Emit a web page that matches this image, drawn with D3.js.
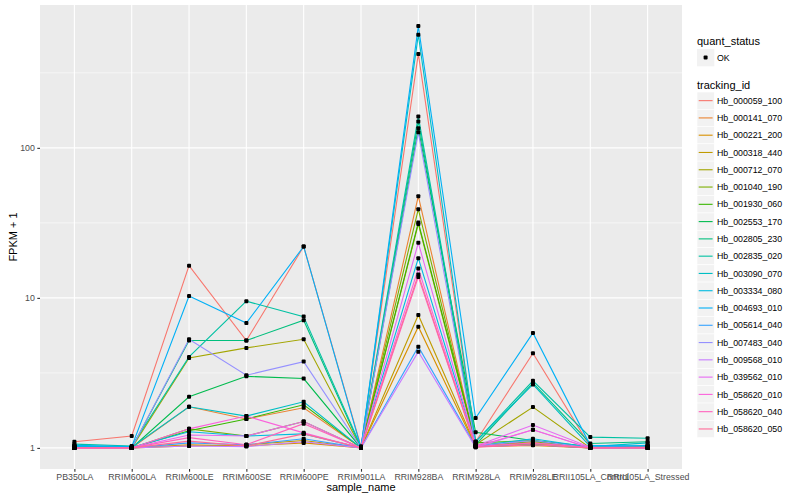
<!DOCTYPE html>
<html>
<head>
<meta charset="utf-8">
<script src="https://cdn.jsdelivr.net/npm/d3@7"></script>
<style>
  body { margin: 0; background: #fff; }
  text { font-family: "Liberation Sans", Arial, sans-serif; }
</style>
</head>
<body>
<div id="chart"></div>
<script>
const samples = ["PB350LA", "RRIM600LA", "RRIM600LE", "RRIM600SE", "RRIM600PE", "RRIM901LA",
  "RRIM928BA", "RRIM928LA", "RRIM928LE", "RRII105LA_Control", "RRII105LA_Stressed"];

const trackingIds = ["Hb_000059_100", "Hb_000141_070", "Hb_000221_200", "Hb_000318_440", "Hb_000712_070",
  "Hb_001040_190", "Hb_001930_060", "Hb_002553_170", "Hb_002805_230", "Hb_002835_020",
  "Hb_003090_070", "Hb_003334_080", "Hb_004693_010", "Hb_005614_040", "Hb_007483_040",
  "Hb_009568_010", "Hb_039562_010", "Hb_058620_010", "Hb_058620_040", "Hb_058620_050"];

// FPKM + 1, one row per tracking_id, in sample order
const fpkm = [
  [1.10, 1.20, 16.4, 5.19, 22.0, 1.02, 423, 1.10, 4.28, 1.02, 1.02],
  [1.00, 1.00, 1.88, 1.56, 1.85, 1.00, 47.6, 1.05, 1.08, 1.00, 1.00],
  [1.00, 1.00, 1.05, 1.03, 1.08, 1.00, 6.43, 1.02, 1.04, 1.00, 1.00],
  [1.00, 1.00, 1.03, 1.05, 1.12, 1.00, 7.70, 1.03, 1.06, 1.00, 1.01],
  [1.01, 1.00, 3.97, 4.64, 5.30, 1.00, 31.1, 1.05, 1.87, 1.00, 1.00],
  [1.00, 1.00, 1.34, 1.20, 1.50, 1.00, 39.0, 1.04, 1.10, 1.01, 1.01],
  [1.01, 1.00, 1.30, 1.56, 1.94, 1.00, 31.8, 1.08, 1.12, 1.01, 1.02],
  [1.02, 1.00, 2.19, 3.00, 2.90, 1.00, 135, 1.27, 1.12, 1.02, 1.02],
  [1.02, 1.00, 5.20, 5.20, 7.10, 1.00, 150, 1.05, 2.71, 1.07, 1.10],
  [1.06, 1.03, 4.04, 9.50, 7.50, 1.02, 162, 1.10, 2.80, 1.18, 1.16],
  [1.03, 1.01, 1.88, 1.63, 2.03, 1.00, 567, 1.10, 2.65, 1.02, 1.08],
  [1.02, 1.01, 1.28, 1.20, 1.24, 1.00, 18.4, 1.03, 1.15, 1.01, 1.04],
  [1.04, 1.02, 10.3, 6.80, 22.0, 1.00, 648, 1.58, 5.84, 1.04, 1.03],
  [1.00, 1.00, 1.08, 1.05, 1.15, 1.00, 4.73, 1.02, 1.05, 1.00, 1.00],
  [1.00, 1.00, 5.30, 3.05, 3.76, 1.00, 127, 1.03, 1.12, 1.00, 1.00],
  [1.00, 1.00, 1.03, 1.02, 1.10, 1.00, 4.38, 1.01, 1.32, 1.00, 1.00],
  [1.00, 1.00, 1.22, 1.20, 1.50, 1.00, 23.3, 1.03, 1.42, 1.01, 1.01],
  [1.00, 1.00, 1.34, 1.63, 1.26, 1.00, 15.7, 1.02, 1.32, 1.00, 1.01],
  [1.00, 1.00, 1.17, 1.05, 1.45, 1.00, 13.8, 1.02, 1.08, 1.00, 1.00],
  [1.00, 1.00, 1.11, 1.03, 1.24, 1.00, 14.3, 1.01, 1.05, 1.00, 1.00]
];

const colors = ["#F8766D", "#EA8331", "#D89000", "#C09B00", "#A3A500", "#7CAE00", "#39B600",
  "#00BB4E", "#00BF7D", "#00C1A3", "#00BFC4", "#00BAE0", "#00B0F6", "#35A2FF", "#9590FF",
  "#C77CFF", "#E76BF3", "#FA62DB", "#FF62BC", "#FF6A98"];

const yTicks = [1, 10, 100];

const W = 800, H = 500;
const PANEL = {LEFT: 40, RIGHT: 682, TOP: 5, BOTTOM: 469};

const svg = d3.select("#chart").append("svg")
  .attr("width", W).attr("height", H);

// scales
const x = d3.scalePoint()
  .domain(samples)
  .range([PANEL.LEFT, PANEL.RIGHT])
  .padding(0.6);

const logMax = Math.log10(d3.max(fpkm, r => d3.max(r)));
const logMin = Math.log10(d3.min(fpkm, r => d3.min(r)));
const pad = (logMax - logMin) * 0.05;
const y = d3.scaleLog()
  .domain([Math.pow(10, logMin - pad), Math.pow(10, logMax + pad)])
  .range([PANEL.BOTTOM, PANEL.TOP]);

// panel background
svg.append("rect")
  .attr("x", PANEL.LEFT).attr("y", PANEL.TOP)
  .attr("width", PANEL.RIGHT - PANEL.LEFT)
  .attr("height", PANEL.BOTTOM - PANEL.TOP)
  .attr("fill", "#EBEBEB");

// minor grid (half decades)
const minor = yTicks.map(t => t * Math.sqrt(10)).filter(v => v < y.domain()[1]);
svg.append("g").selectAll("line").data(minor).join("line")
  .attr("x1", PANEL.LEFT).attr("x2", PANEL.RIGHT)
  .attr("y1", d => y(d)).attr("y2", d => y(d))
  .attr("stroke", "#fff").attr("stroke-width", 0.55);

// major grid
svg.append("g").selectAll("line").data(yTicks).join("line")
  .attr("x1", PANEL.LEFT).attr("x2", PANEL.RIGHT)
  .attr("y1", d => y(d)).attr("y2", d => y(d))
  .attr("stroke", "#fff").attr("stroke-width", 1.1);
svg.append("g").selectAll("line").data(samples).join("line")
  .attr("x1", d => x(d)).attr("x2", d => x(d))
  .attr("y1", PANEL.TOP).attr("y2", PANEL.BOTTOM)
  .attr("stroke", "#fff").attr("stroke-width", 1.1);

// axes
const yAxis = svg.append("g")
  .attr("transform", `translate(${PANEL.LEFT},0)`)
  .call(d3.axisLeft(y).tickValues(yTicks).tickFormat(d3.format("d")).tickSize(2.7).tickPadding(2.5));
const xAxis = svg.append("g")
  .attr("transform", `translate(0,${PANEL.BOTTOM})`)
  .call(d3.axisBottom(x).tickSize(2.7).tickPadding(2.5));
[xAxis, yAxis].forEach(g => {
  g.select(".domain").remove();
  g.selectAll(".tick line").attr("stroke", "#333").attr("stroke-width", 1.1);
  g.selectAll(".tick text").attr("fill", "#4D4D4D")
    .style("font-family", "Liberation Sans, Arial, sans-serif").style("font-size", "8.8px");
});

// axis titles
svg.append("text")
  .attr("x", (PANEL.LEFT + PANEL.RIGHT) / 2).attr("y", 491)
  .attr("text-anchor", "middle").style("font-size", "11px")
  .text("sample_name");
svg.append("text")
  .attr("transform", `translate(17,${(PANEL.TOP + PANEL.BOTTOM) / 2}) rotate(-90)`)
  .attr("text-anchor", "middle").style("font-size", "11px")
  .text("FPKM + 1");

// lines
const line = d3.line()
  .x((d, i) => x(samples[i]))
  .y(d => y(d));
svg.append("g").selectAll("path").data(fpkm).join("path")
  .attr("d", line)
  .attr("fill", "none")
  .attr("stroke", (d, i) => colors[i])
  .attr("stroke-width", 1.1);

// points
const pts = [];
fpkm.forEach(r => r.forEach((v, i) => pts.push({s: samples[i], v})));
svg.append("g").selectAll("rect").data(pts).join("rect")
  .attr("x", d => x(d.s) - 2).attr("y", d => y(d.v) - 2)
  .attr("width", 4).attr("height", 4).attr("rx", 1)
  .attr("fill", "#000");

// legends
const LX = 697;
svg.append("text").attr("x", LX).attr("y", 45).style("font-size", "11px").text("quant_status");
svg.append("rect").attr("x", LX).attr("y", 49).attr("width", 17.3).attr("height", 17.3).attr("fill", "#F2F2F2");
svg.append("rect").attr("x", LX + 6.6).attr("y", 55.6).attr("width", 4).attr("height", 4).attr("rx", 1).attr("fill", "#000");
svg.append("text").attr("x", LX + 20).attr("y", 60.8).style("font-size", "8.8px").attr("fill", "#000").text("OK");

svg.append("text").attr("x", LX).attr("y", 89).style("font-size", "11px").text("tracking_id");
const key = svg.append("g").selectAll("g").data(trackingIds).join("g")
  .attr("transform", (d, i) => `translate(${LX},${92 + i * 17.28})`);
key.append("rect").attr("width", 17.28).attr("height", 17.28)
  .attr("fill", "#F2F2F2").attr("stroke", "#fff").attr("stroke-width", 0.6);
key.append("line").attr("x1", 1.7).attr("x2", 15.6).attr("y1", 8.64).attr("y2", 8.64)
  .attr("stroke", (d, i) => colors[i]).attr("stroke-width", 1.1);
key.append("text").attr("x", 20).attr("y", 11.8).style("font-size", "8.8px").text(d => d);
</script>
</body>
</html>
